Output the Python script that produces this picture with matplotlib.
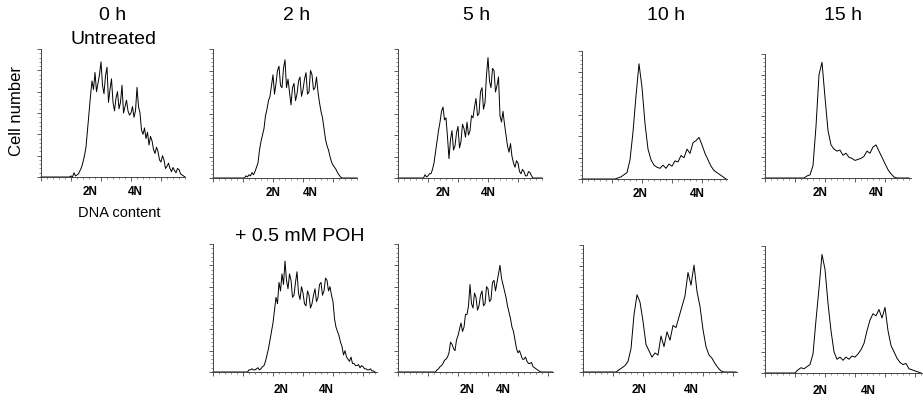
import numpy as np
import matplotlib.pyplot as plt
from matplotlib.ticker import MultipleLocator

plt.rcParams['font.family'] = ['Liberation Sans', 'DejaVu Sans']

W, H = 923, 402

# histogrammes (hauteur 0-120)
# rangée du haut : non traité
t0h = [0] * 20 + [
    1, 0, 4, 1, 2, 3, 6, 9, 14, 20,
    28, 44, 60, 76, 90, 82, 98, 80, 88, 96,
    108, 86, 78, 95, 103, 70, 82, 92, 70, 62,
    74, 80, 64, 70, 86, 60, 66, 72, 62, 58,
    60, 66, 56, 62, 84, 66, 60, 44, 40, 46,
    36, 42, 30, 38, 34, 26, 22, 28, 24, 16,
    14, 20, 16, 8, 10, 13, 8, 5, 9, 6,
    4, 8, 7, 3, 2, 1, 0]
t2h = [0] * 22 + [
    2, 1, 3, 2, 5, 3, 6, 10, 14, 26,
    34, 40, 46, 58, 64, 72, 76, 86, 96, 78,
    88, 100, 104, 86, 84, 102, 110, 84, 92, 80,
    68, 84, 88, 72, 78, 90, 94, 76, 82, 92,
    98, 78, 80, 100, 96, 82, 84, 94, 80, 70,
    62, 56, 46, 36, 30, 26, 20, 15, 12, 10,
    8, 5, 3, 1, 0] + [0] * 10
t5h = [0] * 18 + [
    3, 1, 2, 4, 4, 8, 14, 24, 34, 44,
    52, 62, 66, 54, 56, 38, 18, 36, 44, 26,
    30, 42, 48, 28, 34, 50, 46, 38, 52, 40,
    44, 58, 56, 66, 74, 58, 60, 80, 84, 64,
    70, 96, 112, 90, 84, 102, 100, 80, 86, 94,
    58, 52, 62, 50, 40, 30, 24, 32, 20, 14,
    10, 16, 14, 6, 4, 8, 6, 2, 2, 6,
    5, 2, 0] + [0] * 6
t10h = [0, 0, 0, 0, 0, 0, 0, 0, 0, 0,
        0, 0, 1, 2, 4, 6, 18, 44, 78, 108,
        86, 52, 28, 18, 13, 11, 10, 13, 10, 14,
        12, 17, 16, 22, 20, 28, 24, 34, 36, 39,
        32, 24, 18, 12, 8, 6, 4, 2, 0]
t15h = [0, 0, 0, 0, 0, 0, 0, 0, 0, 0,
        0, 0, 0, 0, 2, 3, 12, 50, 100, 112,
        78, 46, 32, 28, 26, 27, 22, 24, 20, 19,
        17, 18, 19, 21, 26, 24, 30, 32, 26, 20,
        14, 8, 4, 1, 0, 0, 0, 0, 0]
# rangée du bas : + 0.5 mM POH
p2h = [0] * 24 + [
    2, 2, 3, 2, 2, 3, 4, 2, 3, 5,
    6, 10, 16, 22, 30, 38, 46, 58, 70, 64,
    84, 76, 92, 82, 104, 86, 78, 92, 86, 70,
    72, 84, 94, 74, 68, 80, 74, 64, 62, 76,
    72, 60, 64, 72, 78, 66, 70, 82, 84, 72,
    76, 88, 86, 76, 80, 72, 66, 50, 42, 38,
    34, 28, 24, 16, 20, 14, 12, 10, 14, 8,
    8, 6, 6, 7, 4, 6, 5, 3, 3, 2,
    2, 3, 1, 1, 0]
p5h = [0] * 26 + [
    2, 3, 5, 6, 8, 11, 12, 14, 18, 28,
    26, 22, 20, 30, 34, 40, 46, 38, 42, 54,
    54, 62, 82, 64, 60, 74, 70, 58, 62, 72,
    76, 62, 64, 80, 78, 66, 68, 84, 86, 76,
    84, 92, 100, 88, 82, 76, 70, 62, 56, 50,
    42, 38, 30, 22, 18, 20, 16, 12, 12, 14,
    10, 8, 8, 9, 5, 4, 3, 2, 1, 0] + [0] * 8
p10h = [0, 0, 0, 0, 0, 0, 0, 0, 0, 0,
        0, 0, 2, 4, 6, 10, 22, 54, 73, 66,
        48, 26, 20, 14, 18, 16, 34, 24, 38, 30,
        44, 42, 52, 62, 72, 94, 82, 101, 76, 62,
        40, 24, 16, 13, 8, 4, 1, 0, 0, 0,
        0, 0]
p15h = [0, 0, 0, 0, 0, 0, 0, 0, 0, 0,
        0, 3, 5, 4, 6, 8, 18, 50, 80, 112,
        98, 66, 40, 20, 13, 15, 12, 15, 13, 16,
        15, 18, 22, 28, 40, 50, 56, 54, 60, 52,
        62, 40, 26, 20, 14, 10, 8, 9, 4, 3,
        2, 1, 0]

# pas en canaux de chaque série
pas = [0.5, 0.5, 0.5, 1, 1, 0.5, 0.5, 1, 1]

# positions des étiquettes 2N / 4N (canal)
pos_2n = [16.3, 20, 15, 19.3, 18.3, 22.7, 23, 18.7, 18.3]
pos_4n = [31.3, 32.3, 30, 38.3, 37, 37.7, 35, 36, 34.3]

titres = ['0 h', '2 h', '5 h', '10 h', '15 h']

series = [t0h, t2h, t5h, t10h, t15h, p2h, p5h, p10h, p15h]
# boites des axes en pixels : x0, haut, x1, bas
boites = [(41, 50, 185, 178), (213, 50, 357, 179), (398, 50, 542, 179),
          (582, 52, 727, 180), (765, 55, 911, 179),
          (213, 245, 377, 373), (398, 245, 553, 373),
          (583, 246, 737, 373), (765, 247, 922, 374)]

fig = plt.figure(figsize=(W / 100, H / 100), dpi=100)

for k, (y, b) in enumerate(zip(series, boites)):
    x0, yh, x1, yb = b
    ax = fig.add_axes([x0 / W, (H - yb) / H, (x1 - x0) / W, (yb - yh) / H])
    ax.plot(np.arange(len(y)) * pas[k], y, color='black', lw=0.7, clip_on=False)
    ax.set_xlim(0, (x1 - x0) / 3)
    ax.set_ylim(0, 120)
    for s in ['top', 'right']:
        ax.spines[s].set_visible(False)
    for s in ['left', 'bottom']:
        ax.spines[s].set_linewidth(0.7)
        ax.spines[s].set_color('#444444')
    ax.xaxis.set_major_locator(MultipleLocator(10))
    ax.xaxis.set_minor_locator(MultipleLocator(2))
    ax.yaxis.set_major_locator(MultipleLocator(20))
    ax.yaxis.set_minor_locator(MultipleLocator(4))
    ax.tick_params(which='major', length=3, width=0.6, color='#444444',
                   labelbottom=False, labelleft=False)
    ax.tick_params(which='minor', length=1.5, width=0.5, color='#666666')
    off = -10 if k < 5 else -12
    for p, lab in [(pos_2n[k], '2N'), (pos_4n[k], '4N')]:
        ax.annotate(lab, xy=(p, 0), xycoords=('data', 'axes fraction'),
                    xytext=(0, off), textcoords='offset points',
                    ha='center', va='center', fontsize=8.5, fontweight='bold')

# titres
tx = [113, 297, 477, 666, 843]
for t, x in zip(titres, tx):
    fig.text(x / W, 1 - 15 / H, t, ha='center', va='center', fontsize=14)
fig.text(113 / W, 1 - 40 / H, 'Untreated', ha='center', va='center', fontsize=14)
fig.text(300 / W, 1 - 237 / H, '+ 0.5 mM POH', ha='center', va='center', fontsize=14)
fig.text(17 / W, 1 - 111 / H, 'Cell number', rotation=90, ha='center',
         va='center', fontsize=12)
fig.text(119 / W, 1 - 213 / H, 'DNA content', ha='center', va='center', fontsize=10.5)

fig.savefig('out.png', dpi=100)
